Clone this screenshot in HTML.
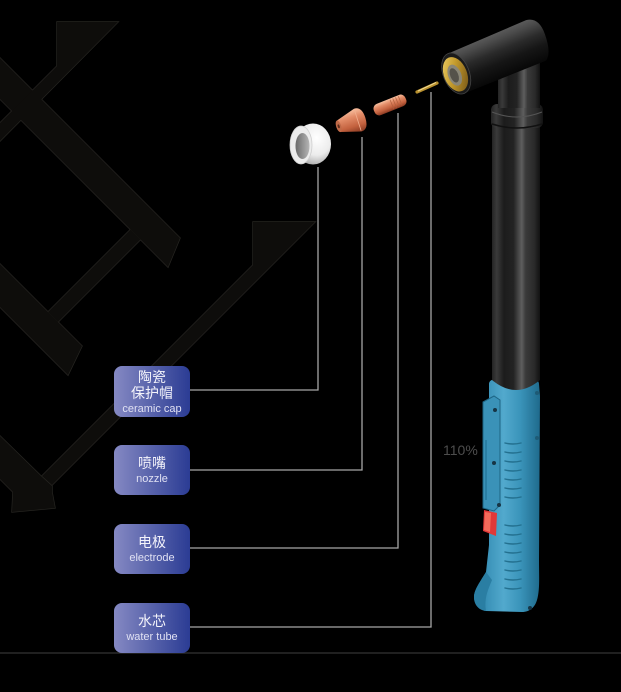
<!DOCTYPE html>
<html><head><meta charset="utf-8">
<style>
html,body{margin:0;padding:0;background:#000;}
body{width:621px;height:692px;position:relative;overflow:hidden;}
svg{position:absolute;left:0;top:0;}
.box{position:absolute;left:114px;width:76px;height:50px;border-radius:8px;
background:linear-gradient(to right,#8589c3 0%,#5c66ad 45%,#2b3c94 100%);
color:#f2f2fa;text-align:center;box-sizing:border-box;padding-top:10px;}
.cn{font-family:"Liberation Sans","Noto Sans CJK SC",sans-serif;font-size:14px;line-height:16px;color:#f4f4fb;}
.en{font-family:"Liberation Sans",sans-serif;font-size:11px;line-height:16px;color:#e0e1f3;}
</style></head><body>
<svg width="621" height="692" viewBox="0 0 621 692">
<defs>
<linearGradient id="tubeG" x1="0" y1="0" x2="1" y2="0">
<stop offset="0" stop-color="#242424"/><stop offset="0.1" stop-color="#3a3a3a"/>
<stop offset="0.25" stop-color="#1c1c1c"/><stop offset="0.45" stop-color="#232323"/>
<stop offset="0.56" stop-color="#4a4a4a"/><stop offset="0.62" stop-color="#5e5e5e"/>
<stop offset="0.7" stop-color="#3a3a3a"/><stop offset="0.88" stop-color="#2a2a2a"/>
<stop offset="1" stop-color="#121212"/></linearGradient>
<linearGradient id="headG" x1="0" y1="0" x2="0" y2="1">
<stop offset="0" stop-color="#5a5a5a"/><stop offset="0.15" stop-color="#4a4a4a"/>
<stop offset="0.4" stop-color="#2a2a2a"/><stop offset="0.65" stop-color="#161616"/>
<stop offset="1" stop-color="#070707"/></linearGradient>
<linearGradient id="brassG" x1="0" y1="0" x2="1" y2="1">
<stop offset="0" stop-color="#f2d56e"/><stop offset="0.45" stop-color="#c39a2c"/>
<stop offset="1" stop-color="#6a4c14"/></linearGradient>
<linearGradient id="blueG" x1="0" y1="0" x2="1" y2="0">
<stop offset="0" stop-color="#24769a"/><stop offset="0.2" stop-color="#3a92b8"/>
<stop offset="0.45" stop-color="#52a9cd"/><stop offset="0.7" stop-color="#3a94ba"/>
<stop offset="1" stop-color="#1f6a8c"/></linearGradient>
<radialGradient id="capG" cx="0.6" cy="0.35" r="0.7">
<stop offset="0" stop-color="#ffffff"/><stop offset="0.6" stop-color="#ececec"/>
<stop offset="1" stop-color="#a8a8a8"/></radialGradient>
<linearGradient id="holeG" x1="0" y1="0" x2="1" y2="0">
<stop offset="0" stop-color="#6a6a6a"/><stop offset="1" stop-color="#b5b5b5"/></linearGradient>
<linearGradient id="copG" x1="0" y1="0" x2="0" y2="1">
<stop offset="0" stop-color="#f8c0a0"/><stop offset="0.3" stop-color="#e38c68"/>
<stop offset="0.7" stop-color="#c4623f"/><stop offset="1" stop-color="#8a3a22"/></linearGradient>
</defs>

<!-- background pattern outlines -->
<g fill="none" stroke="#262521" stroke-width="1.4" stroke-linejoin="miter">
<polygon points="0,58 180,238 168,267 0,99"/>
<polygon points="57,22 118,22 0,141 0,123 57,66"/>
<polygon points="130.5,229.5 140.5,239.5 58,322 48,312"/>
<polygon points="0,264 82,346 68,375 0,307"/>
<polygon points="253,222 315,222 52,485 42,476 253,265"/>
<polygon points="0,436 42,477 52,486 52,492 55,508 12,512 13,492 0,479"/>
</g>
<g fill="#0e0d0b">
<polygon points="0,58 180,238 168,267 0,99"/>
<polygon points="57,22 118,22 0,141 0,123 57,66"/>
<polygon points="130.5,229.5 140.5,239.5 58,322 48,312"/>
<polygon points="0,264 82,346 68,375 0,307"/>
<polygon points="253,222 315,222 52,485 42,476 253,265"/>
<polygon points="0,436 42,477 52,486 52,492 55,508 12,512 13,492 0,479"/>
</g>

<!-- connectors -->
<g fill="none" stroke="#a6a6a6" stroke-width="1.3">
<polyline points="190,390 318,390 318,167"/>
<polyline points="190,470 362,470 362,137"/>
<polyline points="190,548 398,548 398,113"/>
<polyline points="190,627 431,627 431,92"/>
</g>
<line x1="0" y1="653" x2="621" y2="653" stroke="#333" stroke-width="1.2"/>

<!-- handle -->
<path d="M489,384 C489,379 496,378 514,378 C532,378 539,379 539,384 L540,396 L539,560 C539,576 540,590 537,600 C535,607 530,612 522,612 L486,611 C478,610 474,604 474,597 C474,590 480,582 486,572 L489,545 Z" fill="url(#blueG)"/>
<path d="M474,597 C474,590 480,582 486,572 L492,580 C488,590 484,598 486,611 C478,610 474,604 474,597Z" fill="#2a7ea3"/>
<!-- grip ridges -->
<g stroke="#23708f" stroke-width="1.4" fill="none" stroke-linecap="round">
<path d="M505,443 q8,2 16,0"/><path d="M505,452 q8,2 16,0"/><path d="M505,461 q8,2 16,0"/>
<path d="M505,470 q8,2 16,0"/><path d="M505,479 q8,2 16,0"/><path d="M505,488 q8,2 16,0"/>
<path d="M505,497 q8,2 16,0"/><path d="M505,525 q8,2 16,0"/><path d="M505,534 q8,2 16,0"/>
<path d="M505,543 q8,2 16,0"/><path d="M505,552 q8,2 16,0"/><path d="M505,561 q8,2 16,0"/>
<path d="M505,570 q8,2 16,0"/><path d="M505,579 q8,2 16,0"/><path d="M505,588 q8,2 16,0"/>
</g>
<!-- side rail -->
<path d="M483,402 L494,396 L500,400 L500,505 L494,511 L483,508 Z" fill="#3a92b8" stroke="#1d6585" stroke-width="1"/>
<line x1="486" y1="440" x2="486" y2="500" stroke="#2a7ea3" stroke-width="2"/>
<circle cx="495" cy="410" r="2" fill="#173545"/><circle cx="494" cy="463" r="2" fill="#173545"/>
<circle cx="499" cy="505" r="2" fill="#173545"/><circle cx="537" cy="393" r="2" fill="#1e5a75"/>
<circle cx="537" cy="438" r="2" fill="#1e5a75"/><circle cx="530" cy="608" r="2" fill="#173545"/>
<!-- red trigger -->
<path d="M484,510 L497,513 L496,536 L483,531 Z" fill="#e03838"/>
<path d="M485,512 L491,513 L490,532 L484,530 Z" fill="#f26a5a"/>

<!-- tube -->
<path d="M492,124 L540,124 L540,380 Q516,400 492,380 Z" fill="url(#tubeG)"/>
<!-- collar -->
<rect x="491" y="104" width="52" height="24" rx="6" fill="url(#tubeG)"/>
<path d="M492,112 Q517,122 542,112" stroke="#555" stroke-width="1" fill="none"/>
<path d="M492,124 Q517,132 542,124" stroke="#111" stroke-width="1.5" fill="none"/>
<!-- neck -->
<rect x="498" y="58" width="42" height="50" fill="url(#tubeG)"/>
<line x1="526" y1="70" x2="526" y2="96" stroke="#4a4a4a" stroke-width="1"/>

<!-- head -->
<g transform="translate(456,73) rotate(-22.5)">
<path d="M0,-21 L85,-22 Q98,-20 97,-2 Q96,18 88,23 L0,22 Z" fill="url(#headG)"/>
<ellipse cx="0" cy="0.5" rx="13" ry="21.5" fill="#1b1b1b" stroke="#444" stroke-width="0.8"/>
<ellipse cx="-1" cy="1" rx="11.5" ry="18" fill="url(#brassG)"/>
<ellipse cx="-2" cy="1.5" rx="6.5" ry="11" fill="#8a8676"/>
<ellipse cx="-2.5" cy="1.5" rx="4" ry="7.5" fill="#55524a"/>
</g>

<!-- water tube rod -->
<line x1="417" y1="92" x2="437" y2="83" stroke="#b8902e" stroke-width="3.2" stroke-linecap="round"/>
<line x1="418" y1="91" x2="436" y2="82.5" stroke="#f0d890" stroke-width="1"/>

<!-- electrode -->
<g transform="translate(390,105) rotate(-22)">
<rect x="-17" y="-6" width="34" height="12" rx="5" fill="url(#copG)"/>
<g stroke="#b0603e" stroke-width="0.7"><line x1="2" y1="-5" x2="2" y2="5"/><line x1="5" y1="-5" x2="5" y2="5"/><line x1="8" y1="-5" x2="8" y2="5"/><line x1="11" y1="-5" x2="11" y2="5"/></g>
</g>

<!-- nozzle -->
<g transform="translate(352,122) rotate(-18)">
<path d="M-14,-6 L6,-12 Q14,-12 14,0 Q14,12 6,12 L-14,6 Q-16,0 -14,-6Z" fill="url(#copG)"/>
<ellipse cx="-14" cy="0" rx="2.5" ry="6" fill="#c06a48"/>
<ellipse cx="-14" cy="0" rx="1" ry="2" fill="#5a2a1a"/>
<line x1="6" y1="-11" x2="6" y2="11" stroke="#f2b090" stroke-width="0.8"/>
</g>

<!-- ceramic cap -->
<ellipse cx="313" cy="144" rx="18" ry="20.5" fill="url(#capG)"/>
<ellipse cx="301" cy="145" rx="11" ry="19" fill="#ececec" stroke="#cfcfcf" stroke-width="0.8"/>
<ellipse cx="302.5" cy="146" rx="7" ry="13" fill="url(#holeG)"/>

<!-- 110% -->
<text x="443" y="455" font-family="Liberation Sans, sans-serif" font-size="14" fill="#555" fill-opacity="0.9">110%</text>
</svg>

<div class="box" style="top:366px;height:51px;padding-top:3px;"><div class="cn">陶瓷</div><div class="cn">保护帽</div><div class="en">ceramic cap</div></div>
<div class="box" style="top:445px;"><div class="cn">喷嘴</div><div class="en">nozzle</div></div>
<div class="box" style="top:524px;"><div class="cn">电极</div><div class="en">electrode</div></div>
<div class="box" style="top:603px;"><div class="cn">水芯</div><div class="en">water tube</div></div>
</body></html>
